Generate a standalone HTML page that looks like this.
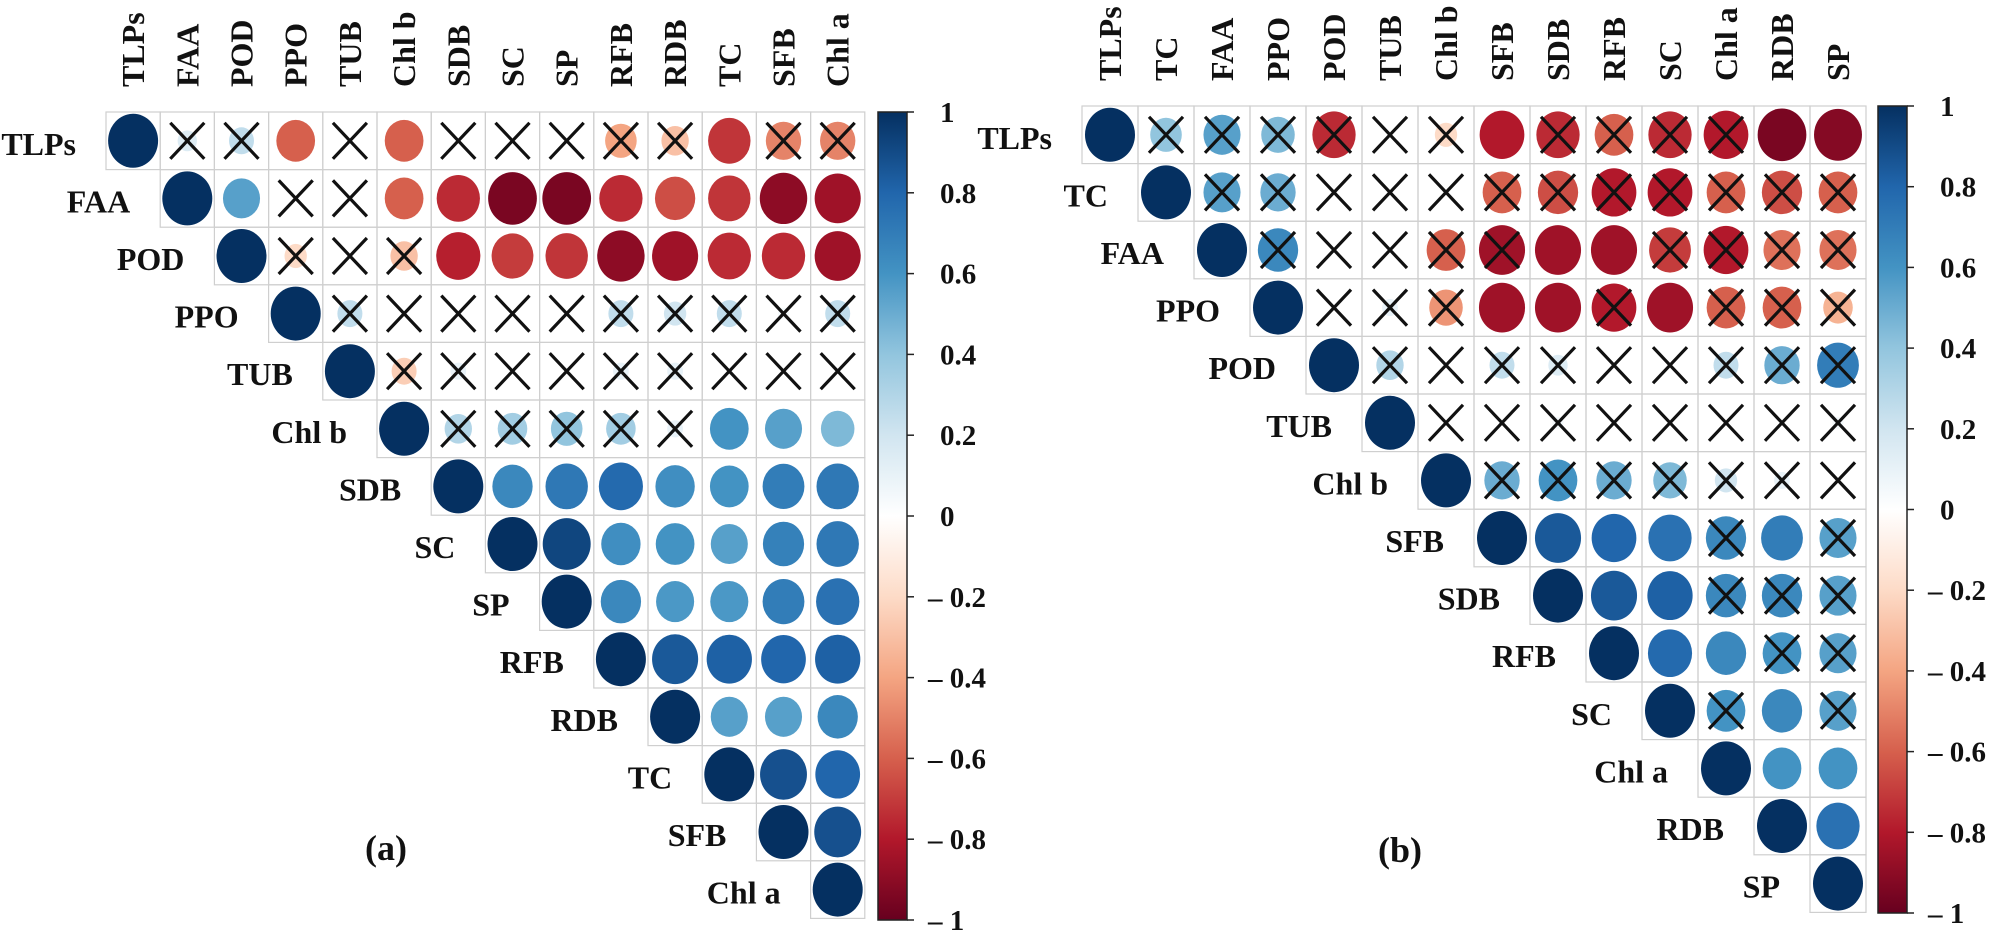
<!DOCTYPE html>
<html><head><meta charset="utf-8"><style>
html,body{margin:0;padding:0;background:#fff;}
svg{display:block;}
text{font-family:"Liberation Serif","DejaVu Serif",serif;font-weight:bold;fill:#111;}
</style></head><body>
<svg id="s" width="2000" height="931" viewBox="0 0 2000 931" xmlns="http://www.w3.org/2000/svg">
<defs>
<linearGradient id="g" x1="0" y1="0" x2="0" y2="1">
<stop offset="0" stop-color="#053061"/><stop offset="0.1" stop-color="#2166AC"/><stop offset="0.2" stop-color="#4393C3"/><stop offset="0.3" stop-color="#92C5DE"/><stop offset="0.4" stop-color="#D1E5F0"/><stop offset="0.5" stop-color="#FFFFFF"/><stop offset="0.6" stop-color="#FDDBC7"/><stop offset="0.7" stop-color="#F4A582"/><stop offset="0.8" stop-color="#D6604D"/><stop offset="0.9" stop-color="#B2182B"/><stop offset="1" stop-color="#67001F"/>
</linearGradient>
</defs>
<text x="365" y="860" font-size="36">(a)</text>
<text x="1378" y="862" font-size="36">(b)</text>
</svg>
<script>
var NS="http://www.w3.org/2000/svg",S=document.getElementById("s");
function el(t,a,txt){var e=document.createElementNS(NS,t);for(var k in a)e.setAttribute(k,a[k]);if(txt!=null)e.textContent=txt;S.appendChild(e);return e;}
var pal=["#67001F","#B2182B","#D6604D","#F4A582","#FDDBC7","#FFFFFF","#D1E5F0","#92C5DE","#4393C3","#2166AC","#053061"];
function hx(h){return [parseInt(h.substr(1,2),16),parseInt(h.substr(3,2),16),parseInt(h.substr(5,2),16)];}
function col(v){var p=(v+1)/2*10;var i=Math.min(9,Math.floor(p)),f=p-i;var a=hx(pal[i]),b=hx(pal[i+1]);
return "rgb("+[0,1,2].map(function(k){return Math.round(a[k]+(b[k]-a[k])*f)}).join(",")+")";}
function panel(P){
 var n=P.names.length;
 for(var i=0;i<n;i++){
  var cy=P.top+(i+0.5)*P.ch;
  // row label
  el("text",{x:P.left+i*P.cw-30,y:cy+14,"font-size":32,"text-anchor":"end"},P.names[i]);
  // header
  var cx=P.left+(i+0.5)*P.cw;
  el("text",{x:0,y:0,"font-size":32,transform:"translate("+(cx+11)+","+(P.top-25)+") rotate(-90)"},P.names[i]);
  for(var j=i;j<n;j++){
   var x0=P.left+j*P.cw,y0=P.top+i*P.ch;
   el("rect",{x:x0,y:y0,width:P.cw,height:P.ch,fill:"none",stroke:"#cfcfcf","stroke-width":1.2});
  }
 }
 for(var i=0;i<n;i++){
  for(var j=i;j<n;j++){
   var v,x=false;
   if(i==j)v=1;else{var s=P.d[i][j-i-1];x=typeof s==="string";v=parseFloat(s);}
   var cx=P.left+(j+0.5)*P.cw,cy=P.top+(i+0.5)*P.ch;
   var sc=Math.sqrt(Math.abs(v));
   if(Math.abs(v)>0.02)el("ellipse",{cx:cx,cy:cy,rx:25*sc,ry:27*sc,fill:col(v)});
   if(x){el("path",{d:"M"+(cx-17)+" "+(cy-18)+"L"+(cx+17)+" "+(cy+18)+"M"+(cx+17)+" "+(cy-18)+"L"+(cx-17)+" "+(cy+18),stroke:"#111","stroke-width":3.2,fill:"none"});}
  }
 }
 // colorbar
 var H=P.cbB-P.top;
 el("rect",{x:P.cbx,y:P.top,width:29,height:H,fill:"url(#g)",stroke:"#222","stroke-width":1.5});
 var ticks=[1,0.8,0.6,0.4,0.2,0,-0.2,-0.4,-0.6,-0.8,-1];
 ticks.forEach(function(t){var y=P.top+(1-t)/2*H;
  el("line",{x1:P.cbx+29,x2:P.cbx+36,y1:y,y2:y,stroke:"#222","stroke-width":1.5});
  var lab=t<0?"\u2013 "+(-t):String(t);
  el("text",{x:t<0?P.cbx+50:P.cbx+62,y:y+10,"font-size":29},lab);
 });
}
panel({left:106,top:112,cw:54.2,ch:57.6,cbx:878,cbB:920,
names:["TLPs","FAA","POD","PPO","TUB","Chl b","SDB","SC","SP","RFB","RDB","TC","SFB","Chl a"],
d:[
["0.15","0.25",-0.6,"0",-0.6,"0","0","0","-0.4","-0.3",-0.72,"-0.5","-0.5"],
[0.55,"0","0",-0.6,-0.75,-0.95,-0.95,-0.75,-0.65,-0.72,-0.9,-0.85],
["-0.2","0","-0.3",-0.78,-0.7,-0.72,-0.9,-0.85,-0.75,-0.75,-0.85],
["0.25","0","0","0","0","0.25","0.2","0.25","0.05","0.25"],
["-0.25","0.1","0","0","0.1","0.1","0","0","0"],
["0.3","0.35","0.4","0.35","0.1",0.6,0.55,0.45],
[0.65,0.72,0.78,0.62,0.6,0.7,0.72],
[0.92,0.62,0.6,0.55,0.68,0.72],
[0.65,0.58,0.58,0.7,0.75],
[0.85,0.82,0.8,0.82],
[0.55,0.55,0.65],
[0.88,0.8],
[0.88]]});
panel({left:1082,top:106,cw:56,ch:57.6,cbx:1878,cbB:913,
names:["TLPs","TC","FAA","PPO","POD","TUB","Chl b","SFB","SDB","RFB","SC","Chl a","RDB","SP"],
d:[
["0.4","0.55","0.45","-0.75","0","-0.2",-0.8,"-0.75","-0.6","-0.75","-0.8",-0.95,-0.92],
["0.55","0.5","0","0","0","-0.6","-0.65","-0.8","-0.8","-0.6","-0.65","-0.6"],
["0.65","0","0","-0.6","-0.85",-0.85,-0.85,"-0.7","-0.8","-0.55","-0.55"],
["0","0.1","-0.45",-0.85,-0.85,"-0.8",-0.85,"-0.6","-0.6","-0.35"],
["0.3","0","0.25","0.15","0","0","0.25","0.5","0.7"],
["0","0","0.05","0","0","0","0","0.05"],
["0.5","0.6","0.5","0.45","0.2","0.1","0"],
[0.85,0.8,0.75,"0.65",0.7,"0.55"],
[0.85,0.82,"0.65","0.65","0.55"],
[0.78,0.65,"0.6","0.55"],
["0.6",0.65,"0.55"],
[0.6,0.6],
[0.75]]});
</script>
</body></html>
